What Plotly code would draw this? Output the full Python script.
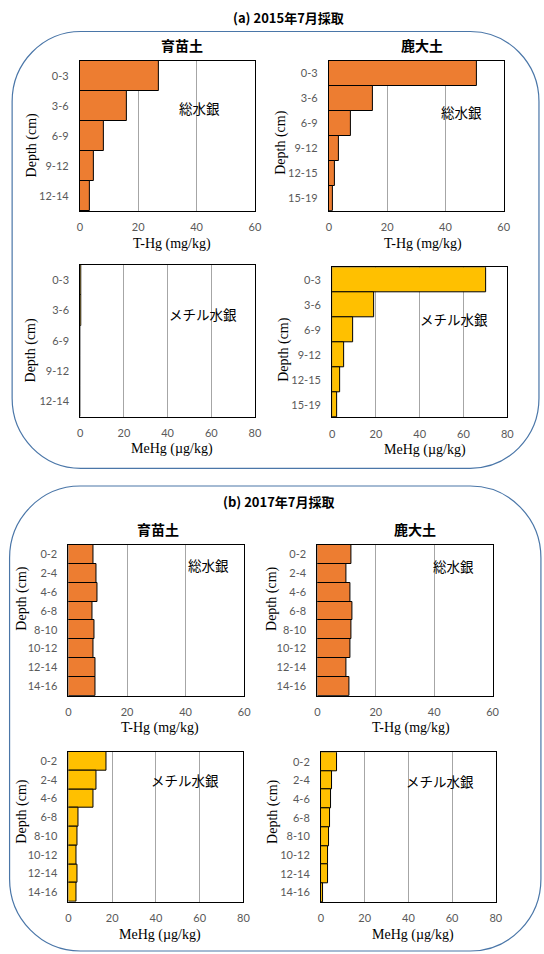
import plotly.graph_objects as go

# Depth intervals (cm)
depth_2015_nursery = ["0-3", "3-6", "6-9", "9-12", "12-14"]
depth_2015_univ = ["0-3", "3-6", "6-9", "9-12", "12-15", "15-19"]
depth_2017 = ["0-2", "2-4", "4-6", "6-8", "8-10", "10-12", "12-14", "14-16"]

# Total mercury, T-Hg (mg/kg)
thg_2015_nursery = [27.2, 16.0, 8.2, 4.8, 3.5]
thg_2015_univ = [50.7, 15.1, 7.5, 3.5, 1.9, 1.3]
thg_2017_nursery = [8.7, 9.6, 10.0, 8.3, 8.8, 8.4, 9.3, 9.3]
thg_2017_univ = [11.8, 10.1, 11.2, 12.1, 11.6, 11.2, 9.8, 10.9]

# Methylmercury, MeHg (ug/kg)
mehg_2015_nursery = [0.5, 0.3, 0.0, 0.0, 0.0]
mehg_2015_univ = [70.4, 19.3, 9.4, 5.4, 3.6, 2.1]
mehg_2017_nursery = [17.3, 12.6, 11.5, 4.6, 4.3, 3.6, 3.9, 3.7]
mehg_2017_univ = [7.3, 5.1, 4.8, 4.0, 3.6, 3.3, 3.3, 1.0]

# Text
main_titles = ["(a) 2015年7月採取", "(b) 2017年7月採取"]
site_titles = ["育苗土", "鹿大土"]
thg_label = "総水銀"
mehg_label = "メチル水銀"
thg_axis_title = "T-Hg (mg/kg)"
mehg_axis_title = "MeHg (µg/kg)"
depth_axis_title = "Depth (cm)"

W, H = 544, 954
ORANGE = "#ED7D31"
GOLD = "#FFC000"
CJK = "Noto Sans CJK JP"
SERIF = "Liberation Serif"
TICKFONT = dict(family="Lato", size=11, color="#595959")


def px(x):
    return x / W


def py(y):
    return 1 - y / H


# panel: (depths, values, color, max, plot box in pixels (left, top, right, bottom),
#         inner label, label pos, x title, x title pos, depth title pos)
panels = [
    (depth_2015_nursery, thg_2015_nursery, ORANGE, 60, (78.3, 61, 256.7, 211),
     thg_label, (200, 108), thg_axis_title, (172, 244), (30, 145)),
    (depth_2015_univ, thg_2015_univ, ORANGE, 60, (332, 61, 510, 210.7),
     thg_label, (467, 112), thg_axis_title, (428, 244), (283, 143)),
    (depth_2015_nursery, mehg_2015_nursery, GOLD, 80, (78.7, 265, 256.7, 416.7),
     mehg_label, (204, 314), mehg_axis_title, (172.5, 449), (29, 350)),
    (depth_2015_univ, mehg_2015_univ, GOLD, 80, (335.3, 267.3, 513.7, 417.3),
     mehg_label, (459, 319), mehg_axis_title, (429.5, 450), (286, 350)),
    (depth_2017, thg_2017_nursery, ORANGE, 60, (66.7, 545, 245.7, 695.7),
     thg_label, (209, 565), thg_axis_title, (160, 728), (19, 599)),
    (depth_2017, thg_2017_univ, ORANGE, 60, (320.3, 545, 498.7, 695.7),
     thg_label, (459, 566), thg_axis_title, (416, 728), (274, 599)),
    (depth_2017, mehg_2017_nursery, GOLD, 80, (66.7, 751.7, 245, 901.7),
     mehg_label, (185, 780), mehg_axis_title, (160, 935), (19, 812)),
    (depth_2017, mehg_2017_univ, GOLD, 80, (324, 752.3, 502, 902),
     mehg_label, (445, 781), mehg_axis_title, (418, 935), (275, 812)),
]

fig = go.Figure()
layout = {}
annotations = []

for i, (depths, vals, color, vmax, box, lab, lab_pos, xt, xt_pos, yt_pos) in enumerate(panels):
    n = i + 1
    xa = "x" if n == 1 else f"x{n}"
    ya = "y" if n == 1 else f"y{n}"
    fig.add_trace(go.Bar(
        x=vals, y=depths, orientation="h", xaxis=xa, yaxis=ya,
        marker=dict(color=color, line=dict(color="#000000", width=1)),
        showlegend=False, hoverinfo="x+y",
    ))
    l, t, r, b = box
    key = "" if n == 1 else str(n)
    layout[f"xaxis{key}"] = dict(
        domain=[px(l), px(r)], anchor=ya, range=[0, vmax], dtick=20,
        showgrid=True, gridcolor="#A6A6A6", gridwidth=1, zeroline=False,
        showline=True, mirror=True, linecolor="#000000", linewidth=1,
        ticks="", tickfont=TICKFONT, ticklabelstandoff=6, fixedrange=True,
    )
    layout[f"yaxis{key}"] = dict(
        domain=[py(b), py(t)], anchor=xa, type="category",
        categoryorder="array", categoryarray=depths, autorange="reversed",
        showgrid=False, zeroline=False,
        showline=True, mirror=True, linecolor="#000000", linewidth=1,
        ticks="", tickfont=TICKFONT, ticklabelstandoff=8, fixedrange=True,
    )
    annotations.append(dict(
        text=lab, x=px(lab_pos[0]), y=py(lab_pos[1]), xref="paper", yref="paper",
        showarrow=False, font=dict(family=CJK, size=13.5, color="#000000"),
        xanchor="center", yanchor="middle",
    ))
    annotations.append(dict(
        text=xt, x=px(xt_pos[0]), y=py(xt_pos[1]), xref="paper", yref="paper",
        showarrow=False, font=dict(family=SERIF, size=14, color="#000000"),
        xanchor="center", yanchor="middle",
    ))
    annotations.append(dict(
        text=depth_axis_title, x=px(yt_pos[0]), y=py(yt_pos[1]), xref="paper",
        yref="paper", showarrow=False, textangle=-90,
        font=dict(family=SERIF, size=14, color="#000000"),
        xanchor="center", yanchor="middle",
    ))

# site titles above each column
for (x, y), name in zip([(182, 45), (427, 45), (158, 529), (420, 529)],
                        site_titles * 2):
    annotations.append(dict(
        text=f"<b>{name}</b>", x=px(x), y=py(y), xref="paper", yref="paper",
        showarrow=False, font=dict(family=CJK, size=14, color="#000000"),
        xanchor="center", yanchor="middle",
    ))

# sampling-period headings
for (x, y), name in zip([(291, 17), (281, 502)], main_titles):
    annotations.append(dict(
        text=f"<b>{name}</b>", x=px(x), y=py(y), xref="paper", yref="paper",
        showarrow=False, font=dict(family=CJK, size=13, color="#000000"),
        xanchor="center", yanchor="middle",
    ))


def rounded_rect(l, t, r, b, rad):
    k = 0.5523 * rad
    pts = [
        f"M{px(l + rad)},{py(t)}",
        f"L{px(r - rad)},{py(t)}",
        f"C{px(r - rad + k)},{py(t)} {px(r)},{py(t + rad - k)} {px(r)},{py(t + rad)}",
        f"L{px(r)},{py(b - rad)}",
        f"C{px(r)},{py(b - rad + k)} {px(r - rad + k)},{py(b)} {px(r - rad)},{py(b)}",
        f"L{px(l + rad)},{py(b)}",
        f"C{px(l + rad - k)},{py(b)} {px(l)},{py(b - rad + k)} {px(l)},{py(b - rad)}",
        f"L{px(l)},{py(t + rad)}",
        f"C{px(l)},{py(t + rad - k)} {px(l + rad - k)},{py(t)} {px(l + rad)},{py(t)}",
        "Z",
    ]
    return " ".join(pts)


shapes = [
    dict(type="path", xref="paper", yref="paper", layer="below",
         path=rounded_rect(9.3, 31.5, 546, 468.3, 70),
         line=dict(color="#4A76A8", width=1.2)),
    dict(type="path", xref="paper", yref="paper", layer="below",
         path=rounded_rect(6.7, 486, 548, 951, 72),
         line=dict(color="#4A76A8", width=1.2)),
]

fig.update_layout(
    width=W, height=H, margin=dict(l=0, r=0, t=0, b=0),
    paper_bgcolor="#FFFFFF", plot_bgcolor="#FFFFFF",
    bargap=0, annotations=annotations, shapes=shapes,
    **layout,
)

fig.write_html("out.html")
